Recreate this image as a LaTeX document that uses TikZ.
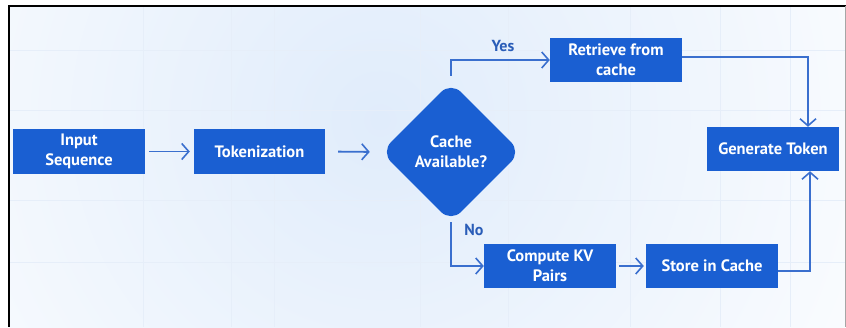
\documentclass[tikz,border=0pt]{standalone}
\usepackage{fontspec}
\setmainfont{PT Sans}
\usetikzlibrary{arrows.meta,shapes.geometric}
\definecolor{boxblue}{HTML}{1A5FD2}
\definecolor{lineblue}{HTML}{3A6FCE}
\definecolor{lblblue}{HTML}{2A5DB8}
\definecolor{gridc}{HTML}{E6EEF9}
\definecolor{bgblue}{HTML}{E0ECFB}
\begin{document}
\begin{tikzpicture}[x=1pt,y=-1pt,
  box/.style={fill=boxblue, text=white, font=\bfseries\fontsize{16.5}{20}\selectfont, align=center, inner sep=0pt, minimum width=132pt, minimum height=44pt},
  decision/.style={diamond, aspect=1, fill=boxblue, text=white, font=\bfseries\fontsize{16.5}{20}\selectfont, align=center, inner sep=0pt, minimum width=140pt, minimum height=140pt, rounded corners=14pt},
  conn/.style={draw=lineblue, line width=1.8pt, -{Straight Barb[length=7pt,width=16pt,line width=1.6pt]}},
  lbl/.style={text=lblblue, font=\bfseries\fontsize{16}{19}\selectfont}
]
\useasboundingbox (0,0) rectangle (846,327);
\fill[white] (0,0) rectangle (846,327);
\begin{scope}
  \clip (9,6) rectangle (845,327);
  \shade[inner color=bgblue, outer color=white] (380,120) circle (620pt);
  \foreach \gx in {143,231,274,420,508,630,720,790}
    \draw[gridc, line width=0.8pt] (\gx,6) -- (\gx,327);
  \foreach \gy in {50,110,200,262}
    \draw[gridc, line width=0.8pt] (9,\gy) -- (845,\gy);
\end{scope}
\draw[black, line width=2.5pt] (9,327) -- (9,6) -- (846,6);
\draw[gray!70, line width=1pt] (845,6) -- (845,327);

\node[box, minimum width=132pt, minimum height=45pt] (in) at (79,151.5) {Input\\Sequence};
\node[box, minimum width=131pt, minimum height=45pt] (tok) at (259.5,151.5) {Tokenization};
\node[decision] (dia) at (451,152) {Cache\\Available?};
\node[box] (ret) at (616,60) {Retrieve from\\cache};
\node[box] (gen) at (773,149) {Generate Token};
\node[box] (comp) at (550,266) {Compute KV\\Pairs};
\node[box] (store) at (712,266) {Store in Cache};

\draw[conn, shorten <=4pt, shorten >=4pt] (in.east) -- (tok.west);
\draw[conn, shorten <=13pt, shorten >=11pt] (tok.east) -- (dia.west);
\draw[conn, shorten <=6pt] (dia.north) |- (ret.west);
\draw[conn] (dia.south) |- (comp.west);
\draw[conn] ([yshift=3pt]ret.east) -| ([xshift=35pt]gen.north);
\draw[conn, shorten <=3pt, shorten >=2pt] (comp.east) -- (store.west);
\draw[conn] ([yshift=-5pt]store.east) -| ([xshift=37pt]gen.south);

\node[lbl] (yes) at (503,46) {Yes};
\node[lbl] (no) at (474,230) {No};
\end{tikzpicture}
\end{document}
